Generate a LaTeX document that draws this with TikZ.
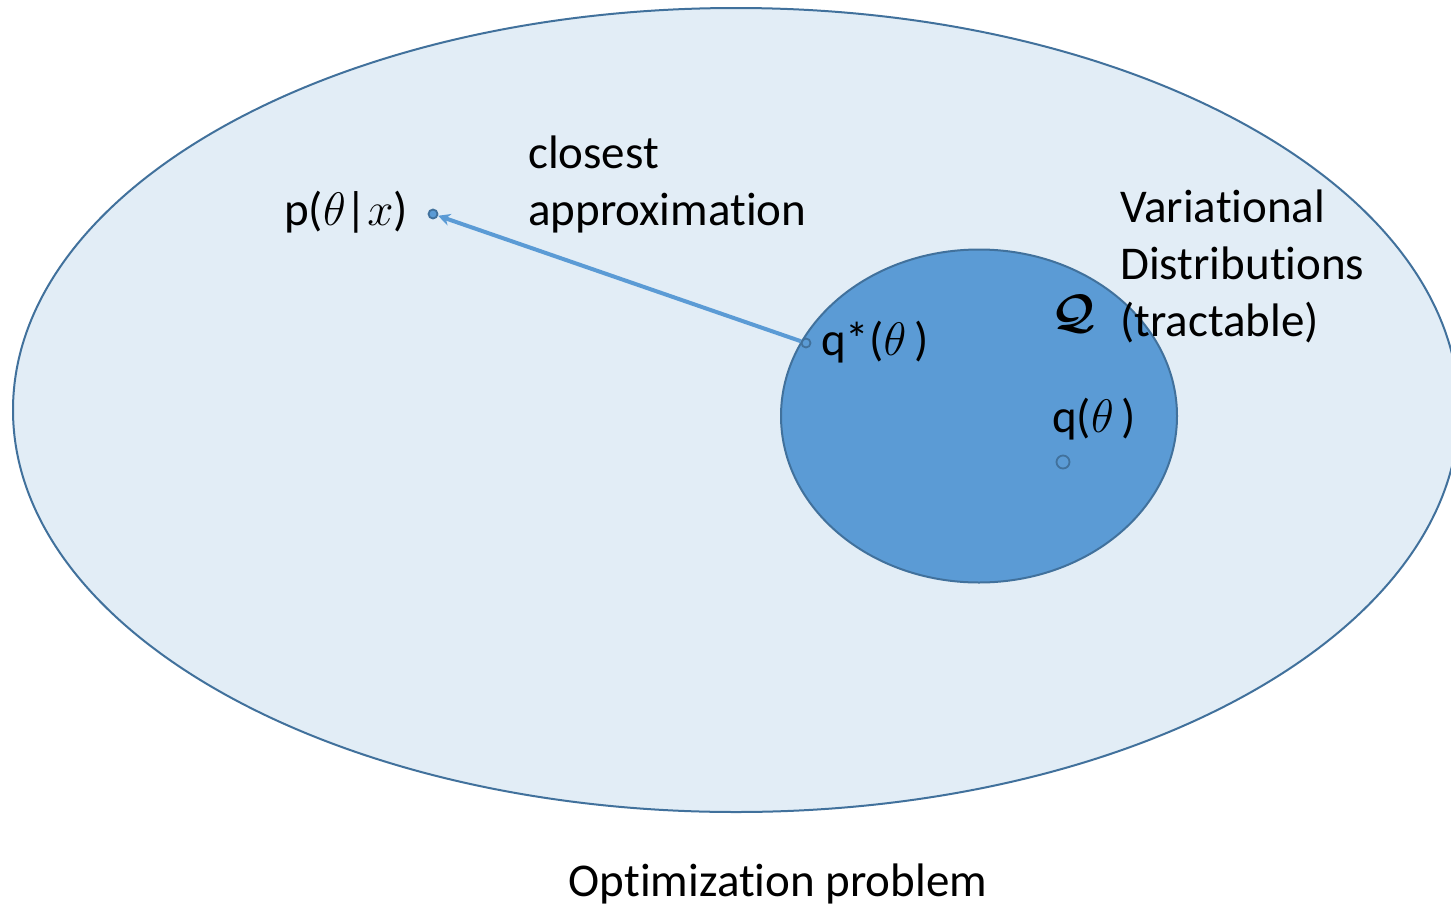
\RequirePackage{fix-cm}
\documentclass[tikz,border=0pt]{standalone}
\usepackage{bm}
\usepackage{fontspec}
\setmainfont{Carlito}[Ligatures={NoCommon}]
\usetikzlibrary{shapes.geometric,arrows.meta}
\definecolor{bgblue}{HTML}{E2EDF6}
\definecolor{midblue}{HTML}{5B9BD5}
\definecolor{edgeblue}{HTML}{41719C}
\begin{document}
\begin{tikzpicture}[x=1pt,y=-1pt,
  lbl/.style={inner sep=0pt, font=\fontsize{47}{57}\selectfont},
  pt/.style={circle, draw=edgeblue, line width=1.8pt, inner sep=0pt}]
\useasboundingbox (0,0) rectangle (1451,916);
\fill[white] (0,0) rectangle (1451,916);
\node[ellipse, draw=edgeblue, fill=bgblue, line width=2pt, minimum width=1446pt, minimum height=804pt, inner sep=0pt] (big) at (736,410) {};
\node[ellipse, draw=edgeblue, fill=midblue, line width=2pt, minimum width=396pt, minimum height=333pt, inner sep=0pt] (small) at (979,416) {};
\node[pt, fill=midblue, minimum size=9pt] (p) at (433,214) {};
\node[pt, minimum size=9pt] (qs) at (806,343) {};
\node[pt, minimum size=13pt] (q) at (1063,462) {};
\draw[midblue, line width=4pt, -{Stealth[length=12pt,width=12pt]}] (qs) -- (p);
\node[lbl, anchor=base east] (plbl) at (408,225) {p($\theta$|$x$)};
\node[lbl, anchor=base west] (qslbl) at (821,355) {q*($\theta$\,)};
\node[lbl, anchor=base west] (qlbl) at (1052,432) {q($\theta$\,)};
\node[lbl, anchor=base] (Q) at (1074,327) {$\bm{\mathcal{Q}}$};
\node[lbl, anchor=base west] (close1) at (528,168) {closest};
\node[lbl, anchor=base west] (close2) at (528,225) {approximation};
\node[lbl, anchor=base west] (var1) at (1120,222) {Variational};
\node[lbl, anchor=base west] (var2) at (1120,279) {Distributions};
\node[lbl, anchor=base west] (var3) at (1120,336) {(tractable)};
\node[lbl, anchor=base] (opt) at (778,896) {Optimization problem};
\end{tikzpicture}
\end{document}
